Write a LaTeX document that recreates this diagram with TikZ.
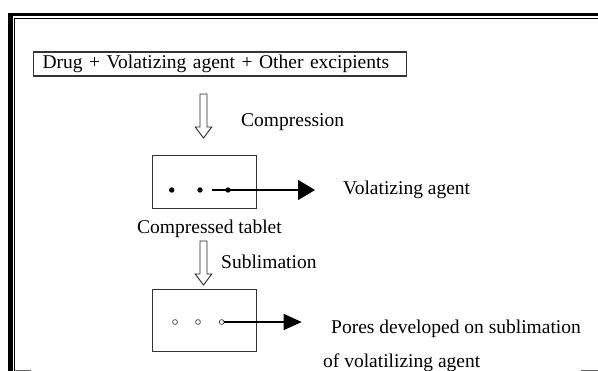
\documentclass[tikz,border=0pt]{standalone}
\usepackage{fontspec}
\setmainfont{Liberation Serif}
\usetikzlibrary{arrows.meta}
\tikzset{
  boxline/.style={draw=black!80, line width=1.1pt},
  tabletbox/.style={boxline, minimum width=104.3pt, minimum height=53pt, anchor=north west, inner sep=0pt},
  lbl/.style={anchor=west, inner sep=0pt},
  dotfull/.style={circle, fill=black, inner sep=0pt, minimum size=5.4pt},
  dotopen/.style={circle, draw=black!75, line width=0.7pt, fill=white, inner sep=0pt, minimum size=4.8pt},
  pointer/.style={line width=1.5pt, -{Triangle[length=17pt,width=20pt]}},
  pointersmall/.style={line width=1.4pt, -{Triangle[length=18pt,width=16pt]}},
  hollowarrow/.pic={
    \draw[line width=0.9pt, draw=black!85, line join=miter]
      (-3.5,0) -- (3.5,0) -- (3.5,33) -- (8.3,33) -- (0,44) -- (-8.3,33) -- (-3.5,33) -- cycle;
  }
}
\begin{document}
\begin{tikzpicture}[x=1pt,y=-1pt, font=\fontsize{19.5}{23}\selectfont]
\useasboundingbox (0,0) rectangle (598,371);
% frame
\fill[black] (8,13) rectangle (13,371);
\fill[black] (8,13) rectangle (598,16);
\draw[line width=1pt] (14.7,371) -- (14.7,18.3) -- (598,18.3);
\draw[black!60, line width=1pt] (15,370.5) -- (31,370.5);
\draw[black!60, line width=1pt] (580.5,370.5) -- (598,370.5);

% top box
\node[boxline, anchor=west, text width=354pt, align=left, inner xsep=9.5pt, inner ysep=0pt,
      minimum height=24pt] (mix) at (32.5,64) {\raisebox{-1.5pt}{Drug + Volatizing agent + Other excipients}};

% compression arrow
\pic at (203.5,94) {hollowarrow};
\node[lbl] (comp) at (241,122.5) {Compression};

% tablet 1
\node[tabletbox] (tab1) at (151.7,155) {};
\node[dotfull] (d1) at (171.7,190) {};
\node[dotfull] (d2) at (200,190) {};
\node[dotfull] (d3) at (228,190) {};
\node[lbl] (vol) at (343,190) {Volatizing agent};
\draw[pointer, shorten <=9.5pt, shorten >=28pt] (d2.east) -- (vol.west);
\node[lbl] (ctab) at (137,228.5) {Compressed tablet};

% sublimation arrow
\pic at (203.5,241) {hollowarrow};
\node[lbl] (subl) at (221,261.5) {Sublimation};

% tablet 2
\node[tabletbox, minimum height=62pt] (tab2) at (151.7,289) {};
\node[dotopen] (c1) at (175,322) {};
\node[dotopen] (c2) at (198,322) {};
\node[dotopen] (c3) at (221.7,322) {};
\node[lbl] (pores) at (331,329) {Pores developed on sublimation};
\node[lbl] (ofv) at (323,362.5) {of volatilizing agent};
\draw[pointersmall, shorten >=29.3pt] (c3.east) -- (c3.east -| pores.west);
\end{tikzpicture}
\end{document}
